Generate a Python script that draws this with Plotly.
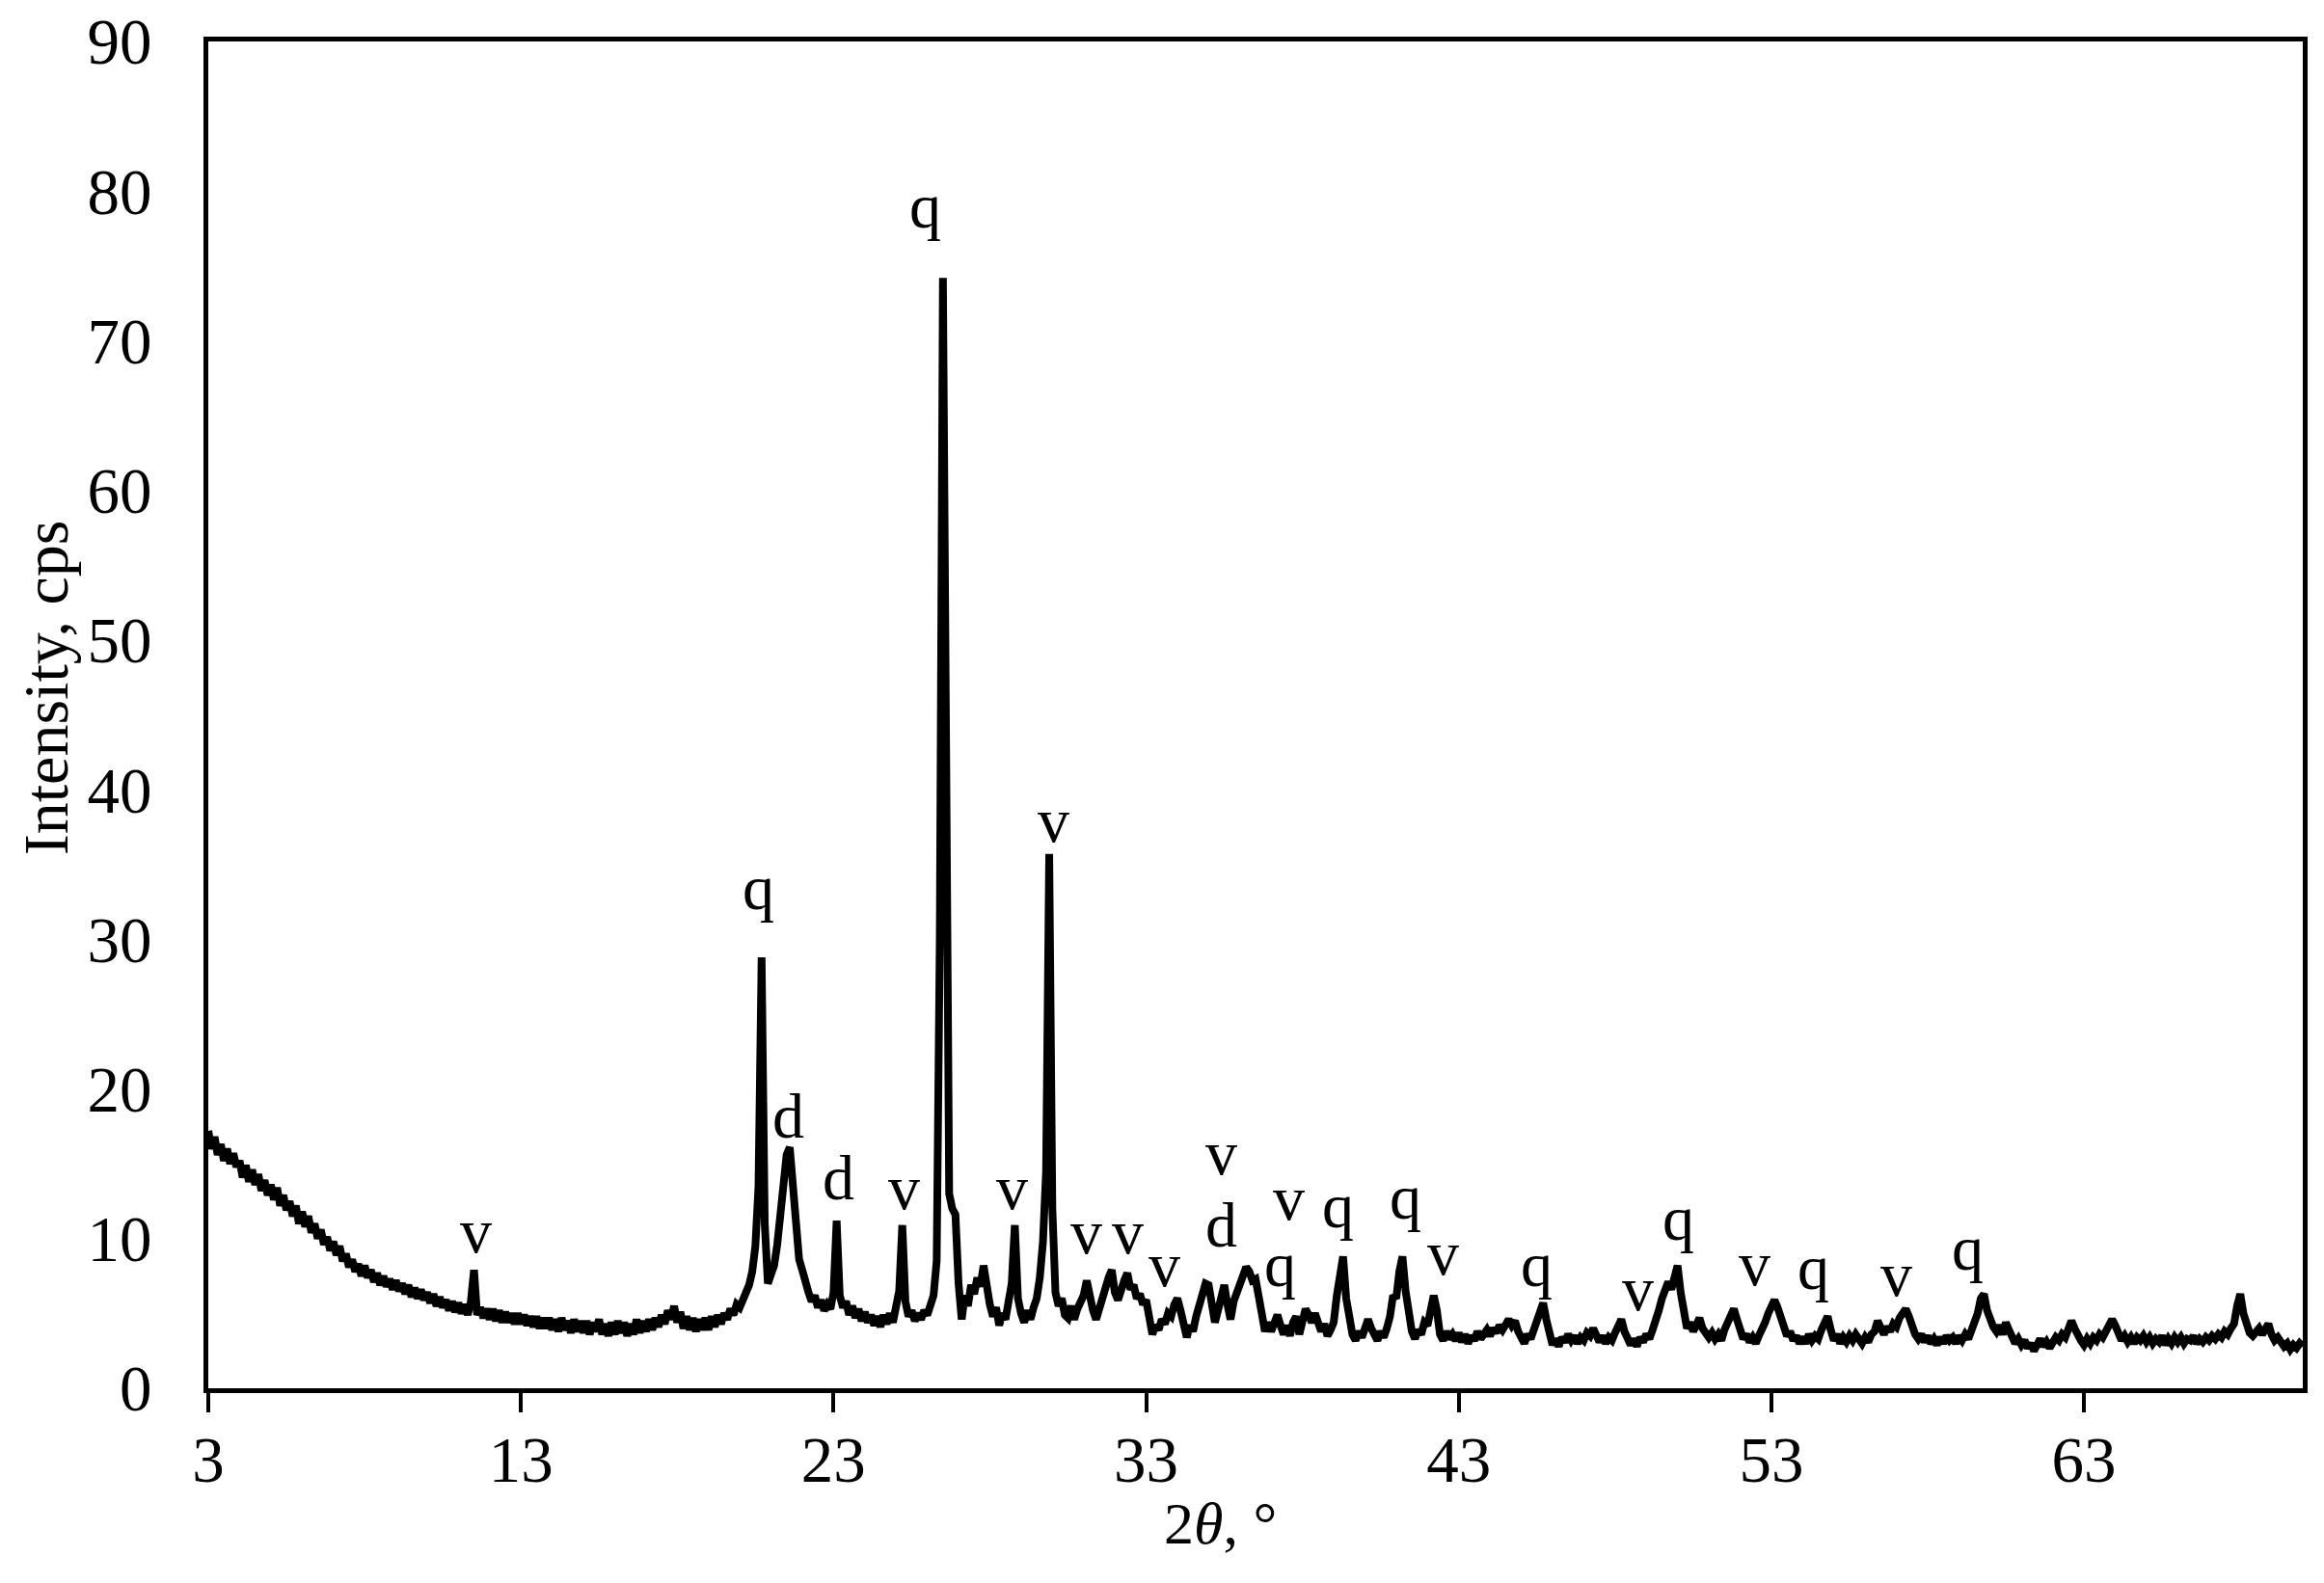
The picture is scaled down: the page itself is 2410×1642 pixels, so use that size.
import plotly.graph_objects as go

# diffractogram, 0.1 deg steps from 3.0 to 70.0 (one row per degree)
intensity_rows = [
    [17.2, 16.0, 16.8, 15.6, 16.3, 15.2, 16.0, 15.0, 15.7, 14.8],  # 3
    [15.2, 14.1, 14.9, 13.8, 14.6, 13.6, 14.3, 13.2, 13.9, 12.9],  # 4
    [13.6, 12.6, 13.4, 12.2, 12.9, 11.9, 12.5, 11.5, 12.2, 11.0],  # 5
    [11.8, 10.8, 11.5, 10.4, 11.0, 10.0, 10.6, 9.6, 10.1, 9.2],    # 6
    [9.8, 8.9, 9.5, 8.5, 9.0, 8.1, 8.6, 7.8, 8.3, 7.5],            # 7
    [8.2, 7.4, 7.9, 7.1, 7.7, 6.9, 7.5, 6.8, 7.3, 6.6],            # 8
    [7.2, 6.5, 7.0, 6.3, 6.9, 6.1, 6.7, 6.0, 6.6, 5.9],            # 9
    [6.4, 5.7, 6.3, 5.5, 6.1, 5.4, 5.9, 5.2, 5.8, 5.1],            # 10
    [5.7, 5.0, 5.6, 4.9, 5.8, 7.9, 4.9, 5.4, 4.7, 5.3],            # 11
    [4.6, 5.3, 4.5, 5.2, 4.4, 5.1, 4.4, 5.0, 4.3, 5.0],            # 12
    [4.3, 4.9, 4.2, 4.8, 4.1, 4.8, 4.0, 4.7, 4.0, 4.7],            # 13
    [3.9, 4.6, 3.8, 4.7, 3.9, 4.5, 3.7, 4.6, 3.8, 4.5],            # 14
    [3.7, 4.5, 3.6, 4.4, 3.8, 4.6, 3.6, 4.3, 3.5, 4.4],            # 15
    [3.6, 4.5, 3.7, 4.4, 3.5, 4.3, 3.6, 4.6, 3.7, 4.5],            # 16
    [3.8, 4.6, 3.9, 4.7, 4.1, 4.9, 4.3, 5.2, 4.6, 5.5],            # 17
    [4.4, 5.1, 4.0, 4.8, 3.9, 4.7, 3.8, 4.6, 3.9, 4.7],            # 18
    [3.9, 4.8, 4.1, 4.9, 4.3, 5.0, 4.6, 5.3, 4.9, 5.6],            # 19
    [5.4, 5.9, 6.2, 6.9, 7.8, 9.5, 13.5, 28.8, 11.0, 7.0],         # 20
    [7.6, 8.2, 9.6, 12.0, 14.2, 15.6, 16.1, 13.2, 10.2, 8.6],      # 21
    [7.9, 7.0, 6.4, 5.8, 6.2, 5.4, 5.9, 5.2, 5.6, 5.3],            # 22
    [6.4, 11.2, 6.2, 5.4, 5.8, 4.9, 5.5, 4.7, 5.3, 4.5],           # 23
    [5.1, 4.4, 4.9, 4.2, 4.8, 4.1, 4.9, 4.3, 5.0, 4.4],            # 24
    [5.3, 6.5, 10.9, 5.8, 4.8, 5.2, 4.5, 5.0, 4.6, 5.2],           # 25
    [4.9, 5.5, 6.2, 8.5, 30.0, 74.2, 35.0, 13.0, 12.0, 11.6],      # 26
    [7.0, 4.6, 6.2, 5.5, 6.9, 6.3, 7.4, 6.8, 8.2, 6.4],            # 27
    [5.6, 4.8, 5.4, 4.2, 5.0, 4.6, 5.6, 7.0, 10.9, 6.0],           # 28
    [5.0, 4.4, 5.2, 4.6, 5.4, 6.0, 7.4, 9.8, 14.5, 35.7],          # 29
    [12.0, 6.4, 5.5, 6.0, 4.9, 4.7, 5.5, 4.6, 5.3, 5.8],           # 30
    [6.2, 7.2, 6.0, 5.2, 4.6, 5.4, 6.2, 6.9, 7.4, 7.9],            # 31
    [6.4, 5.9, 6.8, 7.2, 7.7, 6.6, 6.9, 6.0, 6.3, 5.6],            # 32
    [5.9, 4.8, 3.6, 4.2, 3.9, 4.6, 4.3, 5.0, 4.8, 5.6],            # 33
    [6.0, 5.2, 4.4, 3.4, 4.2, 3.8, 4.8, 5.5, 6.2, 7.0],            # 34
    [6.9, 5.8, 4.4, 5.2, 6.2, 6.9, 5.6, 4.6, 5.8, 6.4],            # 35
    [7.0, 7.5, 8.1, 7.8, 7.2, 7.3, 5.8, 5.0, 3.8, 4.4],            # 36
    [3.8, 4.4, 4.9, 4.2, 3.6, 4.2, 3.5, 4.4, 4.8, 3.6],            # 37
    [4.6, 5.3, 4.9, 4.4, 5.0, 4.2, 3.8, 4.3, 3.5, 3.9],            # 38
    [4.4, 6.2, 7.6, 8.8, 6.0, 4.4, 3.6, 3.2, 3.8, 3.4],            # 39
    [4.0, 4.6, 4.0, 3.5, 3.2, 3.8, 3.4, 4.0, 4.8, 6.2],            # 40
    [6.0, 7.8, 8.8, 6.5, 4.6, 3.8, 3.3, 3.9, 3.6, 4.4],            # 41
    [4.2, 5.0, 6.2, 5.2, 3.6, 3.2, 3.8, 3.3, 3.6, 3.2],            # 42
    [3.7, 3.1, 3.6, 3.0, 3.5, 3.2, 3.8, 3.3, 3.6, 3.9],            # 43
    [3.5, 4.0, 3.7, 4.2, 3.9, 4.4, 4.6, 4.2, 4.5, 3.8],            # 44
    [3.4, 3.0, 3.6, 3.3, 3.9, 4.6, 5.3, 5.7, 4.6, 3.6],            # 45
    [2.9, 3.3, 2.8, 3.4, 3.1, 3.6, 3.2, 3.5, 3.0, 3.4],            # 46
    [3.2, 3.7, 3.5, 4.0, 3.4, 3.1, 3.5, 3.0, 3.4, 3.2],            # 47
    [3.7, 4.2, 4.6, 3.8, 3.2, 2.9, 3.3, 2.8, 3.4, 3.1],            # 48
    [3.6, 3.3, 3.9, 4.4, 5.2, 6.0, 6.8, 7.1, 6.6, 7.6],            # 49
    [8.2, 6.4, 5.0, 4.0, 4.4, 3.8, 4.2, 4.7, 4.0, 3.6],            # 50
    [3.4, 3.7, 3.3, 3.6, 3.2, 3.9, 4.4, 4.8, 5.3, 4.6],            # 51
    [3.8, 3.3, 3.6, 3.1, 3.4, 3.0, 3.5, 3.9, 4.4, 5.0],            # 52
    [5.5, 5.9, 5.4, 4.6, 4.0, 3.5, 3.8, 3.2, 3.5, 3.0],            # 53
    [3.4, 3.0, 3.6, 3.2, 3.5, 3.3, 3.9, 4.4, 4.8, 3.9],            # 54
    [3.2, 3.6, 3.0, 3.4, 3.1, 3.5, 3.2, 3.6, 3.3, 3.0],            # 55
    [3.4, 3.1, 3.6, 3.8, 4.5, 4.0, 3.6, 4.1, 3.8, 4.3],            # 56
    [4.1, 4.7, 5.0, 5.3, 4.8, 4.0, 3.6, 3.3, 3.6, 3.1],            # 57
    [3.5, 3.0, 3.3, 2.9, 3.4, 3.0, 3.5, 3.2, 3.4, 3.0],            # 58
    [3.5, 3.2, 3.6, 3.3, 3.8, 4.2, 5.0, 6.0, 6.3, 5.2],            # 59
    [4.5, 4.1, 3.8, 4.2, 3.6, 4.4, 3.9, 3.5, 3.0, 3.3],            # 60
    [2.9, 3.2, 2.7, 3.0, 2.5, 2.9, 3.3, 2.8, 3.1, 2.7],            # 61
    [3.0, 3.4, 3.2, 3.6, 3.4, 3.9, 4.5, 4.0, 3.5, 3.2],            # 62
    [2.9, 3.3, 3.0, 3.4, 3.2, 3.6, 3.4, 3.9, 4.3, 4.6],            # 63
    [4.2, 3.6, 3.2, 3.5, 3.1, 3.4, 3.0, 3.4, 3.2, 3.5],            # 64
    [3.1, 3.4, 3.0, 3.3, 3.1, 3.5, 2.9, 3.3, 3.0, 3.4],            # 65
    [3.1, 3.4, 3.0, 3.3, 3.2, 3.5, 3.0, 3.3, 3.1, 3.4],            # 66
    [3.2, 3.5, 3.3, 3.6, 3.4, 3.8, 3.6, 4.0, 4.3, 5.5],            # 67
    [6.3, 5.0, 4.3, 3.7, 3.5, 3.8, 4.0, 3.6, 4.0, 4.3],            # 68
    [3.6, 3.2, 3.4, 3.0, 2.8, 3.0, 2.6, 2.9, 2.7, 3.0],            # 69
    [2.8],                                                         # 70
]

# phase labels: q - quartz, d, v
label_text = ["v", "q", "d", "d", "v", "q", "v", "v", "v", "v", "v", "v", "d",
              "v", "q", "q", "q", "v", "q", "v", "q", "v", "q", "v", "q"]
label_x = [11.55, 20.6, 21.55, 23.15, 25.25, 25.93, 28.7, 30.03, 31.1, 32.42, 33.6,
           35.4, 35.4, 37.55, 37.3, 39.14, 41.3, 42.5, 45.5, 48.72, 50.03, 52.47,
           54.33, 56.99, 59.28]
label_y = [10.55, 33.5, 18.2, 14.1, 13.45, 79.0, 13.45, 37.95, 10.45, 10.45, 8.25,
           15.75, 10.95, 12.7, 8.3, 12.2, 12.8, 9.05, 8.3, 6.65, 11.4, 8.35,
           8.1, 7.65, 9.4]

x_ticks = [3, 13, 23, 33, 43, 53, 63]

intensity = [v for row in intensity_rows for v in row]
two_theta = [round(3 + 0.1 * i, 1) for i in range(len(intensity))]

FONT = "Liberation Serif, Times New Roman, serif"

fig = go.Figure()
fig.add_trace(
    go.Scatter(
        x=two_theta,
        y=intensity,
        mode="lines",
        line=dict(color="black", width=8),
        showlegend=False,
    )
)

annotations = [
    dict(x=x, y=y, text=t, xref="x", yref="y", showarrow=False,
         xanchor="center", yanchor="middle",
         font=dict(family=FONT, size=66, color="black"))
    for t, x, y in zip(label_text, label_x, label_y)
]
annotations.append(
    dict(x=0.483, y=-0.100, xref="paper", yref="paper", showarrow=False,
         text="2<i>θ</i>, °", xanchor="center", yanchor="middle",
         font=dict(family=FONT, size=62, color="black"))
)
annotations.append(
    dict(x=-0.0775, y=0.52, xref="paper", yref="paper", showarrow=False,
         text="Intensity, cps", textangle=-90, xanchor="center", yanchor="middle",
         font=dict(family=FONT, size=66, color="black"))
)

fig.update_layout(
    width=2410,
    height=1642,
    margin=dict(l=216, r=22, t=43, b=202),
    paper_bgcolor="white",
    plot_bgcolor="white",
    font=dict(family=FONT, size=67, color="black"),
    annotations=annotations,
    xaxis=dict(
        range=[3, 70],
        tickvals=x_ticks,
        ticks="outside",
        ticklen=20,
        tickwidth=4,
        tickcolor="black",
        ticklabelstandoff=-8,
        ticklabeloverflow="allow",
        automargin=False,
        showline=True,
        linecolor="black",
        linewidth=5,
        mirror=True,
        showgrid=False,
        zeroline=False,
    ),
    yaxis=dict(
        range=[0, 90],
        dtick=10,
        ticks="",
        ticklabelstandoff=40,
        ticklabeloverflow="allow",
        automargin=False,
        showline=True,
        linecolor="black",
        linewidth=5,
        mirror=True,
        showgrid=False,
        zeroline=False,
    ),
)

# drop the default 8 px body margin so the figure sits at the page corner
fig.write_html(
    "out.html",
    config={"displayModeBar": False},
    post_script="document.body.style.margin = '0';",
)
